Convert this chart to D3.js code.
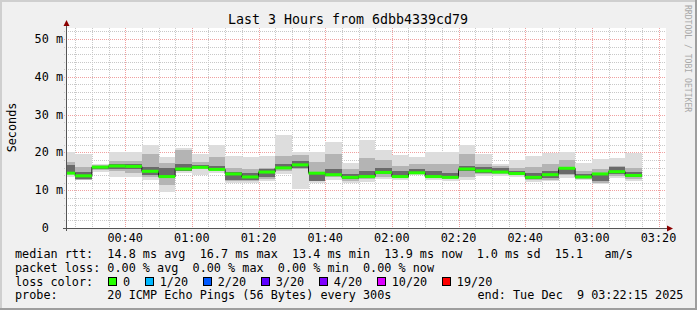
<!DOCTYPE html>
<html>
<head>
<meta charset="utf-8">
<script src="https://cdn.jsdelivr.net/npm/d3@7/dist/d3.min.js"></script>
<style>
	body { margin: 0; background: #f0f0f0; }
	svg text { font-family: "DejaVu Sans Mono", monospace; white-space: pre; }
</style>
</head>
<body>
<svg id="chart" width="697" height="310"></svg>
<script>

// 5 minute probe bins (start of each bin)
var binTimes = ["00:20", "00:25", "00:30", "00:35", "00:40", "00:45", "00:50", "00:55",
	"01:00", "01:05", "01:10", "01:15", "01:20", "01:25", "01:30", "01:35", "01:40", "01:45",
	"01:50", "01:55", "02:00", "02:05", "02:10", "02:15", "02:20", "02:25", "02:30", "02:35",
	"02:40", "02:45", "02:50", "02:55", "03:00", "03:05", "03:10"];

// median rtt per bin (ms)
var medianRtt = [14.5, 13.8, 16.1, 16.4, 16.3, 15.0, 13.6, 15.6, 16.05, 15.5, 14.3, 13.5,
	14.8, 15.9, 16.7, 14.5, 14.1, 13.4, 13.6, 14.7, 13.6, 14.6, 13.6, 13.4, 15.6, 15.1,
	14.8, 14.4, 13.4, 14.1, 15.8, 13.5, 14.3, 14.9, 13.9];

// smoke: outer band (min / max ping)
var pingMin = [13.6, 12.7, 14.7, 13.6, 13.6, 12.7, 9.5, 14.5, 14.0, 14.5, 12.0, 11.8,
	12.3, 14.3, 10.3, 12.0, 12.6, 11.9, 12.2, 12.9, 12.7, 14.0, 12.7, 12.5, 12.7, 13.8,
	13.8, 13.6, 12.1, 12.3, 13.3, 12.7, 11.7, 13.2, 12.3];
var pingMax = [20.2, 19.6, 16.8, 20.0, 20.0, 21.9, 18.7, 21.1, 19.6, 21.9, 19.0, 18.9,
	19.1, 24.6, 20.0, 20.0, 22.8, 17.2, 23.3, 20.6, 19.3, 18.9, 20.2, 20.0, 22.0, 19.6,
	16.9, 18.0, 19.0, 19.9, 20.2, 17.3, 18.2, 18.4, 19.9];

// smoke: middle band
var midLo = [14.2, 12.8, 15.3, 15.0, 14.6, 13.6, 11.5, 15.0, 15.5, 15.2, 12.4, 12.3,
	13.0, 15.2, 15.5, 12.3, 13.4, 12.5, 13.0, 13.5, 13.2, 14.3, 13.2, 13.0, 13.5, 14.2,
	14.2, 14.0, 12.6, 12.8, 14.0, 13.0, 12.0, 13.8, 13.0];
var midHi = [17.5, 16.2, 16.6, 17.8, 17.6, 19.5, 17.1, 20.5, 17.5, 18.9, 15.8, 15.5,
	16.0, 19.0, 19.3, 17.5, 19.5, 15.5, 18.4, 18.0, 16.5, 17.0, 17.0, 17.0, 19.5, 17.0,
	16.5, 16.0, 16.2, 17.0, 18.0, 15.0, 15.5, 16.5, 16.0];

// smoke: inner band near the median
var coreLo = [14.3, 13.0, 15.7, 15.6, 15.5, 14.0, 13.3, 15.2, 15.8, 15.3, 12.8, 12.8,
	13.6, 15.5, 16.0, 12.5, 13.8, 13.0, 13.3, 14.2, 13.4, 14.5, 13.5, 13.2, 15.0, 14.5,
	14.5, 14.2, 12.9, 13.2, 14.3, 13.2, 12.3, 14.3, 13.4];
var coreHi = [16.7, 14.8, 16.4, 16.9, 16.8, 16.2, 15.8, 17.0, 16.6, 16.3, 14.8, 14.6,
	15.5, 16.8, 17.8, 14.8, 15.5, 14.3, 15.0, 16.0, 15.0, 15.5, 15.0, 14.5, 16.5, 16.2,
	15.8, 15.2, 14.6, 15.0, 16.0, 14.2, 14.3, 16.2, 14.8];

// y axis ticks (ms)
var yTicks = [0, 10, 20, 30, 40, 50];

// loss colour legend
var lossLabels = ["0", "1/20", "2/20", "3/20", "4/20", "10/20", "19/20"];
var lossColors = ["#26ff00", "#00b8ff", "#0059ff", "#5e00ff", "#7e00ff", "#dd00ff", "#ff0000"];

// legend rows
var legendLines = [
	"median rtt:  14.8 ms avg  16.7 ms max  13.4 ms min  13.9 ms now  1.0 ms sd  15.1   am/s",
	"packet loss: 0.00 % avg  0.00 % max  0.00 % min  0.00 % now",
	"loss color:",
	"probe:       20 ICMP Echo Pings (56 Bytes) every 300s"
];
var endText = "end: Tue Dec  9 03:22:15 2025";
var title = "Last 3 Hours from 6dbb4339cd79";

var width = 697, height = 310;
var plot = {left: 66, right: 666, top: 28, bottom: 228};
var yMax = 52.9;
var charW = 7.1;

var parseFull = d3.timeParse("%Y-%m-%d %H:%M:%S");
var parseBin = d3.timeParse("%Y-%m-%d %H:%M");
var tStart = parseFull("2025-12-09 00:22:15");
var tEnd = parseFull("2025-12-09 03:22:15");

var bins = binTimes.map(function(t, i) {
	var start = parseBin("2025-12-09 " + t);
	return {
		start: start,
		end: d3.timeMinute.offset(start, 5),
		median: medianRtt[i],
		bands: [
			{lo: pingMin[i], hi: pingMax[i], color: "#dddddd"},
			{lo: midLo[i], hi: midHi[i], color: "#b4b4b4"},
			{lo: coreLo[i], hi: coreHi[i], color: "#6a6a6a"}
		]
	};
});

var x = d3.scaleTime().domain([tStart, tEnd]).range([plot.left, plot.right]);
var y = d3.scaleLinear().domain([0, yMax]).range([plot.bottom, plot.top]);

var svg = d3.select("#chart");

// background and frame
svg.append("rect").attr("width", width).attr("height", height).attr("fill", "#f0f0f0");
svg.append("rect").attr("x", 0).attr("y", 0).attr("width", width).attr("height", 2).attr("fill", "#cfcfcf");
svg.append("rect").attr("x", 0).attr("y", 0).attr("width", 2).attr("height", height).attr("fill", "#cfcfcf");
svg.append("rect").attr("x", 0).attr("y", height - 2).attr("width", width).attr("height", 2).attr("fill", "#9e9e9e");
svg.append("rect").attr("x", width - 2).attr("y", 0).attr("width", 2).attr("height", height).attr("fill", "#9e9e9e");

// canvas
svg.append("rect")
	.attr("x", plot.left).attr("y", plot.top)
	.attr("width", plot.right - plot.left).attr("height", plot.bottom - plot.top)
	.attr("fill", "#ffffff");

// grid
var grid = svg.append("g").attr("shape-rendering", "crispEdges");
var vTimes = d3.timeMinute.every(5).range(tStart, tEnd);
var hVals = d3.range(2, yMax, 2);

grid.selectAll("line.hminor")
	.data(hVals.filter(function(v) { return v % 10 !== 0; }))
	.enter().append("line")
	.attr("x1", plot.left - 2).attr("x2", plot.right)
	.attr("y1", function(d) { return Math.round(y(d)) + 0.5; })
	.attr("y2", function(d) { return Math.round(y(d)) + 0.5; })
	.attr("stroke", "#c8c8c8").attr("stroke-dasharray", "1,1");

grid.selectAll("line.vminor")
	.data(vTimes.filter(function(d) { return d.getMinutes() % 20 !== 0; }))
	.enter().append("line")
	.attr("x1", function(d) { return Math.round(x(d)) + 0.5; })
	.attr("x2", function(d) { return Math.round(x(d)) + 0.5; })
	.attr("y1", plot.top).attr("y2", plot.bottom + 2)
	.attr("stroke", "#c8c8c8").attr("stroke-dasharray", "1,1");

grid.selectAll("line.hmajor")
	.data(hVals.filter(function(v) { return v % 10 === 0; }))
	.enter().append("line")
	.attr("x1", plot.left - 2).attr("x2", plot.right)
	.attr("y1", function(d) { return Math.round(y(d)) + 0.5; })
	.attr("y2", function(d) { return Math.round(y(d)) + 0.5; })
	.attr("stroke", "#f0a0a0").attr("stroke-dasharray", "1,1");

grid.selectAll("line.vmajor")
	.data(vTimes.filter(function(d) { return d.getMinutes() % 20 === 0; }))
	.enter().append("line")
	.attr("x1", function(d) { return Math.round(x(d)) + 0.5; })
	.attr("x2", function(d) { return Math.round(x(d)) + 0.5; })
	.attr("y1", plot.top).attr("y2", plot.bottom + 2)
	.attr("stroke", "#f0a0a0").attr("stroke-dasharray", "1,1");

// clip data to the canvas
svg.append("clipPath").attr("id", "clip")
	.append("rect")
	.attr("x", plot.left).attr("y", plot.top)
	.attr("width", plot.right - plot.left).attr("height", plot.bottom - plot.top);

var data = svg.append("g").attr("clip-path", "url(#clip)");

// smoke bands, outer first
for (var layer = 0; layer < 3; layer++) {
	data.selectAll("rect.smoke" + layer)
		.data(bins)
		.enter().append("rect")
		.attr("shape-rendering", "crispEdges")
		.attr("x", function(d) { return x(d.start); })
		.attr("width", function(d) { return x(d.end) - x(d.start); })
		.attr("y", function(d) { return y(d.bands[layer].hi); })
		.attr("height", function(d) { return y(d.bands[layer].lo) - y(d.bands[layer].hi); })
		.attr("fill", function(d) { return d.bands[layer].color; });
}

// median step line
var stepPts = bins.map(function(d) { return [x(d.start), y(d.median)]; });
var last = bins[bins.length - 1];
stepPts.push([x(last.end), y(last.median)]);
data.append("path")
	.attr("d", d3.line().curve(d3.curveStepAfter)(stepPts))
	.attr("fill", "none")
	.attr("stroke", "#202020")
	.attr("stroke-width", 1);

// median band coloured by loss (all 0 here)
data.selectAll("rect.median")
	.data(bins)
	.enter().append("rect")
	.attr("x", function(d) { return x(d.start); })
	.attr("width", function(d) { return x(d.end) - x(d.start); })
	.attr("y", function(d) { return y(d.median) - 1.5; })
	.attr("height", 3)
	.attr("fill", lossColors[0]);

// axes
var axes = svg.append("g").attr("shape-rendering", "crispEdges");
axes.append("line")
	.attr("x1", plot.left + 0.5).attr("x2", plot.left + 0.5)
	.attr("y1", plot.bottom + 3).attr("y2", plot.top - 4)
	.attr("stroke", "#555555");
axes.append("line")
	.attr("x1", plot.left - 3).attr("x2", plot.right + 2)
	.attr("y1", plot.bottom + 0.5).attr("y2", plot.bottom + 0.5)
	.attr("stroke", "#555555");
svg.append("path")
	.attr("d", "M" + (plot.left + 0.5) + "," + (plot.top - 8) + "l-3,6h6z")
	.attr("fill", "#8b0000");
svg.append("path")
	.attr("d", "M" + (plot.right + 7) + "," + (plot.bottom + 0.5) + "l-6,-3v6z")
	.attr("fill", "#8b0000");

// y tick labels
svg.selectAll("text.ytick")
	.data(yTicks)
	.enter().append("text")
	.attr("x", function(d) { return d === 0 ? 63 - 2 * charW : 63; })
	.attr("y", function(d) { return y(d) + 4; })
	.attr("text-anchor", "end")
	.attr("font-size", "11.8px")
	.attr("fill", "#000")
	.text(function(d) { return d === 0 ? "0" : d + " m"; });

// x tick labels
var xTicks = vTimes.filter(function(d) { return d.getMinutes() % 20 === 0; });
svg.selectAll("text.xtick")
	.data(xTicks)
	.enter().append("text")
	.attr("x", function(d) { return x(d); })
	.attr("y", 242)
	.attr("text-anchor", "middle")
	.attr("font-size", "11.8px")
	.attr("fill", "#000")
	.text(d3.timeFormat("%H:%M"));

// title and axis label
svg.append("text")
	.attr("x", 348).attr("y", 24)
	.attr("text-anchor", "middle")
	.attr("font-size", "13.3px")
	.text(title);

svg.append("text")
	.attr("transform", "translate(15.5,127.5) rotate(-90)")
	.attr("text-anchor", "middle")
	.attr("font-size", "11.8px")
	.text("Seconds");

svg.append("text")
	.attr("transform", "translate(685,5) rotate(90)")
	.attr("font-size", "8.1px")
	.attr("fill", "#a8a8a8")
	.text("RRDTOOL / TOBI OETIKER");

// legend
var rowY = [258.3, 271.9, 285.6, 299.3];
svg.selectAll("text.legend")
	.data(legendLines)
	.enter().append("text")
	.attr("x", 15)
	.attr("y", function(d, i) { return rowY[i]; })
	.attr("font-size", "11.8px")
	.text(function(d) { return d; });

svg.append("text")
	.attr("x", 477.5).attr("y", rowY[3])
	.attr("font-size", "11.8px")
	.text(endText);

var lx = 108;
lossLabels.forEach(function(label, i) {
	svg.append("rect")
		.attr("x", lx + 0.5).attr("y", 277.5)
		.attr("width", 8).attr("height", 8)
		.attr("fill", lossColors[i])
		.attr("stroke", "#000")
		.attr("shape-rendering", "crispEdges");
	svg.append("text")
		.attr("x", lx + 15).attr("y", rowY[2])
		.attr("font-size", "11.8px")
		.text(label);
	lx += 15 + label.length * charW + 14.6;
});

</script>
</body>
</html>
